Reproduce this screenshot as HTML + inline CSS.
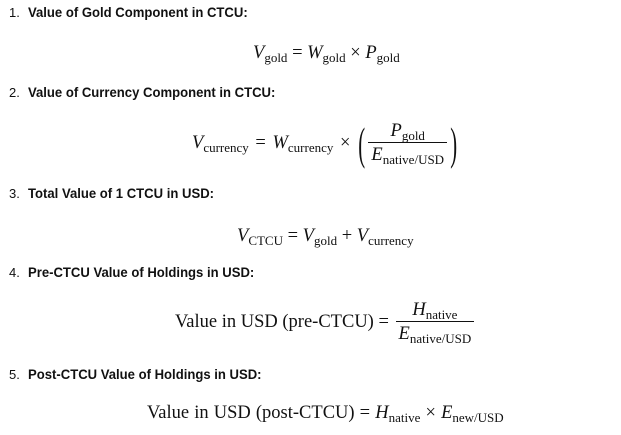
<!DOCTYPE html>
<html><head><meta charset="utf-8"><style>
body{margin:0;width:621px;height:435px;background:#fff;position:relative;overflow:hidden;color:#111}
.h{position:absolute;left:9px;font:13px "Liberation Sans",sans-serif;white-space:nowrap}
.h span{display:inline-block;width:19px}
.h b{display:inline-block;font-size:13.5px;transform:scaleX(0.97);transform-origin:0 0}
.m{position:absolute;font:18.5px "Liberation Serif",serif;white-space:nowrap;line-height:20px}
.m i{font-style:italic}
sub{font-size:13px;vertical-align:-4px;font-style:normal;line-height:0}
.fr{display:inline-block;vertical-align:middle;text-align:center;margin:0 2px}
.fr .n{display:block;padding:0 3px;border-bottom:1px solid #111;line-height:22px}
.fr .d{display:block;padding:0 3px;line-height:24px}
.big{font-size:46px;font-weight:100;vertical-align:middle;line-height:46px;transform:scaleX(0.45);display:inline-block;margin:0 -3px}
</style></head><body>
<div class="h" style="top:5px"><span>1.</span><b>Value of Gold Component in CTCU:</b></div>
<div class="m" style="left:253px;top:43px"><i>V</i><sub>gold</sub> = <i>W</i><sub>gold</sub> × <i>P</i><sub>gold</sub></div>

<div class="h" style="top:85px"><span>2.</span><b>Value of Currency Component in CTCU:</b></div>
<div class="m" style="left:192px;top:118px;line-height:50px;word-spacing:2px"><i>V</i><sub>currency</sub> = <i>W</i><sub>currency</sub> × <span class="big">(</span><span class="fr"><span class="n"><i>P</i><sub>gold</sub></span><span class="d"><i>E</i><sub>native/USD</sub></span></span><span class="big">)</span></div>

<div class="h" style="top:186px"><span>3.</span><b>Total Value of 1 CTCU in USD:</b></div>
<div class="m" style="left:237px;top:226px"><i>V</i><sub>CTCU</sub> = <i>V</i><sub>gold</sub> + <i>V</i><sub>currency</sub></div>

<div class="h" style="top:265px"><span>4.</span><b>Pre-CTCU Value of Holdings in USD:</b></div>
<div class="m" style="left:175px;top:299px;line-height:46px">Value in USD (pre-CTCU) = <span class="fr"><span class="n"><i>H</i><sub>native</sub></span><span class="d"><i>E</i><sub>native/USD</sub></span></span></div>

<div class="h" style="top:367px"><span>5.</span><b>Post-CTCU Value of Holdings in USD:</b></div>
<div class="m" style="left:147px;top:403px;word-spacing:0.5px">Value in USD (post-CTCU) = <i>H</i><sub>native</sub> × <i>E</i><sub>new/USD</sub></div>
</body></html>
